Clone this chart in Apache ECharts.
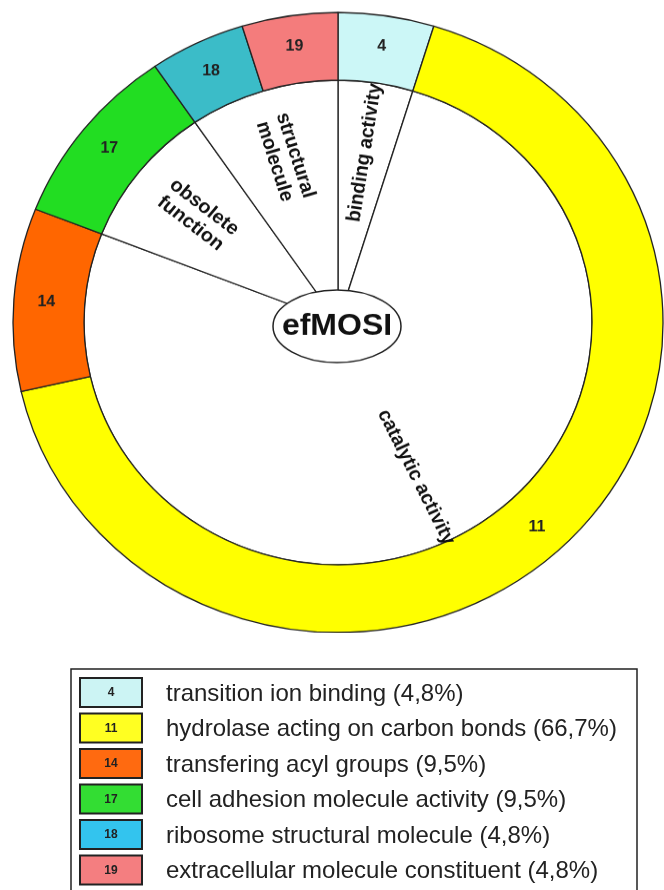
<!DOCTYPE html>
<html>
<head>
<meta charset="utf-8">
<script src="https://cdn.jsdelivr.net/npm/echarts@6/dist/echarts.min.js"></script>
<style>
html, body { margin: 0; padding: 0; background: #fff; }
#ring { position: absolute; left: 0; top: 0; width: 664px; height: 664px; transform: scaleY(0.954); transform-origin: 0 0; }
#key { position: absolute; left: 0; top: 640px; width: 664px; height: 250px; }
</style>
</head>
<body>
<div id="ring"></div>
<div id="key"></div>
<script>
// outer ring: subclasses
var codes = ['4', '11', '14', '17', '18', '19'];
var counts = [1, 14, 2, 2, 1, 1];
var ringColors = ['#ccf7f7', '#ffff00', '#ff6600', '#22dd22', '#3bbcc8', '#f47c7c'];
var keyColors = ['#ccf4f4', '#ffff22', '#ff6a10', '#33dd33', '#33c4ee', '#f47e80'];
var keyLabels = [
  'transition ion binding (4,8%)',
  'hydrolase acting on carbon bonds (66,7%)',
  'transfering acyl groups (9,5%)',
  'cell adhesion molecule activity (9,5%)',
  'ribosome structural molecule (4,8%)',
  'extracellular molecule constituent (4,8%)'
];
// inner pie: main classes
var groups = ['binding activity', 'catalytic activity', 'obsolete\nfunction', 'structural\nmolecule'];
var groupCounts = [1, 16, 2, 2];
var centerText = 'efMOSI';

window.onload = function () {
  var ringChart = echarts.init(document.getElementById('ring'));
  var cx = 338, cy = 338;

  var ringData = codes.map(function (c, i) {
    return { name: c, value: counts[i], itemStyle: { color: ringColors[i] } };
  });
  var groupData = groups.map(function (g, i) {
    return { name: g, value: groupCounts[i] };
  });

  ringChart.setOption({
    backgroundColor: '#fff',
    animation: false,
    series: [
      {
        type: 'pie',
        radius: [0, 254],
        center: [cx, cy],
        startAngle: 90,
        silent: true,
        label: { show: false },
        labelLine: { show: false },
        itemStyle: { color: '#fff', borderColor: '#222', borderWidth: 1.3 },
        data: groupData
      },
      {
        // only carries the labels of the inner pie
        type: 'pie',
        radius: [100, 254],
        center: [cx, cy],
        startAngle: 90,
        silent: true,
        labelLine: { show: false },
        itemStyle: { color: 'rgba(0,0,0,0)', borderWidth: 0 },
        label: {
          show: true,
          position: 'inside',
          rotate: 'radial',
          fontFamily: 'Liberation Sans',
          fontSize: 20,
          fontWeight: 'bold',
          lineHeight: 22,
          color: '#111'
        },
        data: groupData
      },
      {
        type: 'pie',
        radius: [254, 325],
        center: [cx, cy],
        startAngle: 90,
        silent: true,
        labelLine: { show: false },
        itemStyle: { borderColor: '#222', borderWidth: 1.3 },
        label: {
          show: true,
          position: 'inside',
          formatter: '{b}',
          fontFamily: 'Liberation Sans',
          fontSize: 16,
          fontWeight: 'bold',
          color: '#222'
        },
        data: ringData
      }
    ],
    graphic: [
      {
        type: 'ellipse',
        z: 100,
        shape: { cx: 337, cy: 342, rx: 64, ry: 38 },
        style: { fill: '#fff', stroke: '#222', lineWidth: 1.5 }
      },
      {
        type: 'text',
        z: 101,
        x: 337,
        y: 342,
        style: {
          text: centerText,
          font: 'bold 32px "Liberation Sans"',
          fill: '#111',
          align: 'center',
          verticalAlign: 'middle'
        }
      }
    ]
  });

  // key below the ring
  var keyChart = echarts.init(document.getElementById('key'));
  var els = [{
    type: 'rect',
    shape: { x: 71, y: 29, width: 566, height: 260 },
    style: { fill: '#fff', stroke: '#222', lineWidth: 1.5 }
  }];
  for (var i = 0; i < codes.length; i++) {
    var top = 38 + i * 35.5;
    els.push({
      type: 'rect',
      shape: { x: 80, y: top, width: 62, height: 29 },
      style: { fill: keyColors[i], stroke: '#222', lineWidth: 2 }
    });
    els.push({
      type: 'text',
      x: 111, y: top + 15,
      style: { text: codes[i], font: 'bold 12px "Liberation Sans"', fill: '#222', align: 'center', verticalAlign: 'middle' }
    });
    els.push({
      type: 'text',
      x: 166, y: top + 16,
      style: { text: keyLabels[i], font: '24px "Liberation Sans"', fill: '#222', align: 'left', verticalAlign: 'middle' }
    });
  }
  keyChart.setOption({ animation: false, graphic: els });
};
</script>
</body>
</html>
